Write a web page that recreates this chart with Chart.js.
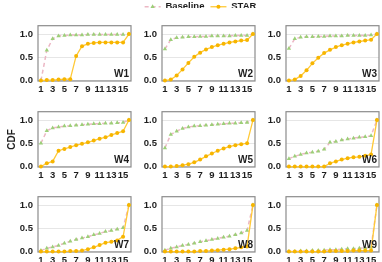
<!DOCTYPE html>
<html>
<head>
<meta charset="utf-8">
<script src="https://cdn.jsdelivr.net/npm/chart.js@4.4.1/dist/chart.umd.min.js"></script>
<style>
  html, body { margin: 0; padding: 0; background: #fff; }
  body { width: 382px; height: 262px; position: relative; overflow: hidden; }
  .panel { position: absolute; }
</style>
</head>
<body>
<script>
const workloads = ['W1', 'W2', 'W3', 'W4', 'W5', 'W6', 'W7', 'W8', 'W9'];
const xValues = [1, 2, 3, 4, 5, 6, 7, 8, 9, 10, 11, 12, 13, 14, 15, 16];
const xTicks = [1, 3, 5, 7, 9, 11, 13, 15];
const yTicks = [0, 0.5, 1];

const baselineW1 = [0, 0.65, 0.9, 0.96, 0.97, 0.98, 0.98, 0.98, 0.99, 0.99, 0.99, 0.99, 0.99, 0.99, 0.99, 1.0];
const starW1 = [0, 0.01, 0.01, 0.02, 0.03, 0.03, 0.53, 0.74, 0.79, 0.81, 0.82, 0.82, 0.82, 0.82, 0.82, 1.0];
const baselineW2 = [0.68, 0.88, 0.92, 0.93, 0.94, 0.94, 0.95, 0.95, 0.96, 0.96, 0.96, 0.96, 0.97, 0.97, 0.97, 1.0];
const starW2 = [0, 0.02, 0.11, 0.24, 0.38, 0.51, 0.6, 0.67, 0.72, 0.76, 0.79, 0.82, 0.84, 0.86, 0.87, 1.0];
const baselineW3 = [0.69, 0.9, 0.93, 0.94, 0.94, 0.95, 0.95, 0.96, 0.96, 0.96, 0.97, 0.97, 0.97, 0.97, 0.98, 1.0];
const starW3 = [0, 0.02, 0.1, 0.22, 0.37, 0.49, 0.59, 0.66, 0.72, 0.76, 0.79, 0.82, 0.84, 0.86, 0.88, 1.0];
const baselineW4 = [0.5, 0.77, 0.83, 0.85, 0.87, 0.88, 0.89, 0.9, 0.91, 0.92, 0.92, 0.93, 0.93, 0.94, 0.95, 1.0];
const starW4 = [0, 0.07, 0.11, 0.34, 0.38, 0.42, 0.46, 0.49, 0.52, 0.56, 0.6, 0.63, 0.68, 0.72, 0.76, 1.0];
const baselineW5 = [0.4, 0.69, 0.76, 0.82, 0.85, 0.87, 0.88, 0.89, 0.9, 0.91, 0.92, 0.93, 0.93, 0.94, 0.95, 1.0];
const starW5 = [0, 0, 0.01, 0.03, 0.05, 0.09, 0.15, 0.22, 0.28, 0.34, 0.39, 0.43, 0.46, 0.48, 0.5, 1.0];
const baselineW6 = [0.17, 0.22, 0.26, 0.29, 0.31, 0.33, 0.37, 0.52, 0.54, 0.57, 0.59, 0.61, 0.63, 0.64, 0.66, 1.0];
const starW6 = [0, 0, 0, 0, 0, 0, 0, 0.07, 0.11, 0.15, 0.18, 0.2, 0.21, 0.23, 0.26, 1.0];
const baselineW7 = [0.02, 0.07, 0.1, 0.13, 0.18, 0.22, 0.26, 0.29, 0.32, 0.36, 0.39, 0.43, 0.45, 0.48, 0.51, 1.0];
const starW7 = [0, 0, 0, 0, 0, 0.01, 0.01, 0.02, 0.05, 0.09, 0.14, 0.19, 0.21, 0.24, 0.32, 1.0];
const baselineW8 = [0.03, 0.07, 0.1, 0.13, 0.15, 0.18, 0.21, 0.23, 0.26, 0.28, 0.31, 0.33, 0.36, 0.4, 0.45, 1.0];
const starW8 = [0, 0, 0, 0, 0, 0, 0.01, 0.01, 0.02, 0.03, 0.04, 0.05, 0.07, 0.09, 0.11, 1.0];
const baselineW9 = [0, 0, 0.01, 0.01, 0.02, 0.02, 0.03, 0.04, 0.04, 0.05, 0.06, 0.06, 0.07, 0.08, 0.09, 1.0];
const starW9 = [0, 0, 0, 0, 0, 0, 0, 0.01, 0.01, 0.01, 0.01, 0.02, 0.02, 0.02, 0.02, 1.0];

const baselineSeries = [baselineW1, baselineW2, baselineW3, baselineW4, baselineW5, baselineW6, baselineW7, baselineW8, baselineW9];
const starSeries = [starW1, starW2, starW3, starW4, starW5, starW6, starW7, starW8, starW9];

const pink = '#ecb7c4';
const green = '#9ccf78';
const lineYellow = '#ffc936';
const dotYellow = '#f7b500';
const textColor = '#1e1e1e';
const font = { family: 'Liberation Sans, Arial, sans-serif', weight: 'bold', size: 9.5 };

const plotLefts = [38, 162, 286];
const plotTops = [17, 103, 188];
const plotW = 94;
const plotH = 64;

Chart.defaults.font.family = font.family;
Chart.defaults.color = textColor;

// box around each panel
const frame = {
    id: 'frame',
    beforeDatasetsDraw(chart) {
        const { ctx, chartArea: a } = chart;
        ctx.save();
        ctx.strokeStyle = '#8c8c8c';
        ctx.lineWidth = 1.2;
        ctx.strokeRect(a.left, a.top, a.right - a.left, a.bottom - a.top);
        ctx.restore();
    },
};

const panelLabel = {
    id: 'panelLabel',
    afterDraw(chart, args, opts) {
        if (!opts.text) return;
        const { ctx, chartArea: a } = chart;
        ctx.save();
        ctx.font = 'bold 10px ' + font.family;
        ctx.fillStyle = textColor;
        ctx.textAlign = 'right';
        ctx.textBaseline = 'alphabetic';
        ctx.fillText(opts.text, a.right - 2, a.bottom - 4);
        ctx.restore();
    },
};

function makeDatasets(base, star) {
    return [
        {
            label: 'Baseline',
            data: xValues.map((x, i) => ({ x, y: base[i] })),
            borderColor: pink,
            borderWidth: 1.5,
            borderDash: [4, 3],
            pointStyle: 'triangle',
            pointRadius: 2.5,
            pointBackgroundColor: green,
            pointBorderColor: green,
            pointBorderWidth: 0,
            order: 1,
            clip: false,
        },
        {
            label: 'STAR',
            data: xValues.map((x, i) => ({ x, y: star[i] })),
            borderColor: lineYellow,
            borderWidth: 1.3,
            pointStyle: 'circle',
            pointRadius: 2,
            pointBackgroundColor: dotYellow,
            pointBorderColor: dotYellow,
            pointBorderWidth: 0,
            order: 0,
            clip: false,
        },
    ];
}

workloads.forEach((name, k) => {
    const col = k % 3;
    const row = Math.floor(k / 3);
    const yw = col === 0 ? 38 : 28;
    const div = document.createElement('div');
    div.className = 'panel';
    div.style.left = (plotLefts[col] - yw) + 'px';
    div.style.top = (plotTops[row] - 2) + 'px';
    div.style.width = (yw + plotW + 3) + 'px';
    div.style.height = (2 + plotH + 16) + 'px';
    const canvas = document.createElement('canvas');
    div.appendChild(canvas);
    document.body.appendChild(div);

    new Chart(canvas, {
        type: 'line',
        data: { datasets: makeDatasets(baselineSeries[k], starSeries[k]) },
        options: {
            responsive: true,
            maintainAspectRatio: false,
            animation: false,
            devicePixelRatio: 1,
            layout: { padding: { top: 2, right: 3, bottom: 0, left: 0 } },
            elements: { line: { tension: 0 } },
            plugins: {
                legend: { display: false },
                tooltip: { enabled: false },
                panelLabel: { text: name },
            },
            scales: {
                x: {
                    type: 'linear',
                    min: 0.5,
                    max: 16.35,
                    afterBuildTicks: (s) => { s.ticks = xTicks.map((v) => ({ value: v })); },
                    afterFit: (s) => { s.height = 16; },
                    grid: { display: false, drawTicks: false },
                    border: { display: false },
                    ticks: { font, color: textColor, padding: 3, maxRotation: 0, autoSkip: false },
                },
                y: {
                    min: -0.01,
                    max: 1.18,
                    afterBuildTicks: (s) => { s.ticks = yTicks.map((v) => ({ value: v })); },
                    afterFit: (s) => { s.width = yw; },
                    grid: { color: '#e6e6e6', lineWidth: 1, drawTicks: false },
                    border: { display: false },
                    ticks: { font, color: textColor, padding: 5, callback: (v) => v.toFixed(1) },
                    title: {
                        display: k === 3,
                        text: 'CDF',
                        font: { family: font.family, weight: 'bold', size: 10 },
                        color: textColor,
                        padding: { top: 6, bottom: 0 },
                    },
                },
            },
        },
        plugins: [frame, panelLabel],
    });
});

// shared legend across the top: the library lays out the items,
// this plugin paints the line sample with its marker in each box
const legendMarks = {
    id: 'legendMarks',
    afterDraw(chart) {
        const boxes = chart.legend.legendHitBoxes;
        const ctx = chart.ctx;
        chart.data.datasets.forEach((ds, i) => {
            const b = boxes[i];
            if (!b) return;
            const cy = b.top + b.height / 2;
            ctx.save();
            ctx.strokeStyle = ds.borderColor;
            ctx.lineWidth = ds.borderWidth;
            ctx.setLineDash(ds.borderDash || []);
            ctx.beginPath();
            ctx.moveTo(b.left, cy);
            ctx.lineTo(b.left + 16, cy);
            ctx.stroke();
            ctx.setLineDash([]);
            ctx.fillStyle = ds.pointBackgroundColor;
            ctx.strokeStyle = ds.pointBackgroundColor;
            Chart.helpers.drawPoint(ctx, {
                pointStyle: ds.pointStyle,
                radius: ds.pointRadius,
                rotation: 0,
                borderWidth: 0,
            }, b.left + 8, cy);
            ctx.restore();
        });
    },
};

const legendDiv = document.createElement('div');
legendDiv.className = 'panel';
legendDiv.style.left = '0px';
legendDiv.style.top = '-4px';
legendDiv.style.width = '382px';
legendDiv.style.height = '24px';
const legendCanvas = document.createElement('canvas');
legendDiv.appendChild(legendCanvas);
document.body.appendChild(legendDiv);

new Chart(legendCanvas, {
    type: 'line',
    data: {
        datasets: makeDatasets([], []).map(({ order, ...d }) => ({ ...d, data: [] })),
    },
    options: {
        responsive: true,
        maintainAspectRatio: false,
        animation: false,
        devicePixelRatio: 1,
        layout: { padding: { left: 19, right: 0, top: 0, bottom: 0 } },
        scales: { x: { display: false }, y: { display: false } },
        plugins: {
            tooltip: { enabled: false },
            legend: {
                display: true,
                position: 'top',
                labels: {
                    usePointStyle: true,
                    pointStyle: 'line',
                    pointStyleWidth: 16,
                    padding: 6,
                    color: textColor,
                    font: { family: font.family, weight: 'bold', size: 9.5 },
                },
            },
        },
    },
    plugins: [legendMarks],
});
</script>
</body>
</html>
